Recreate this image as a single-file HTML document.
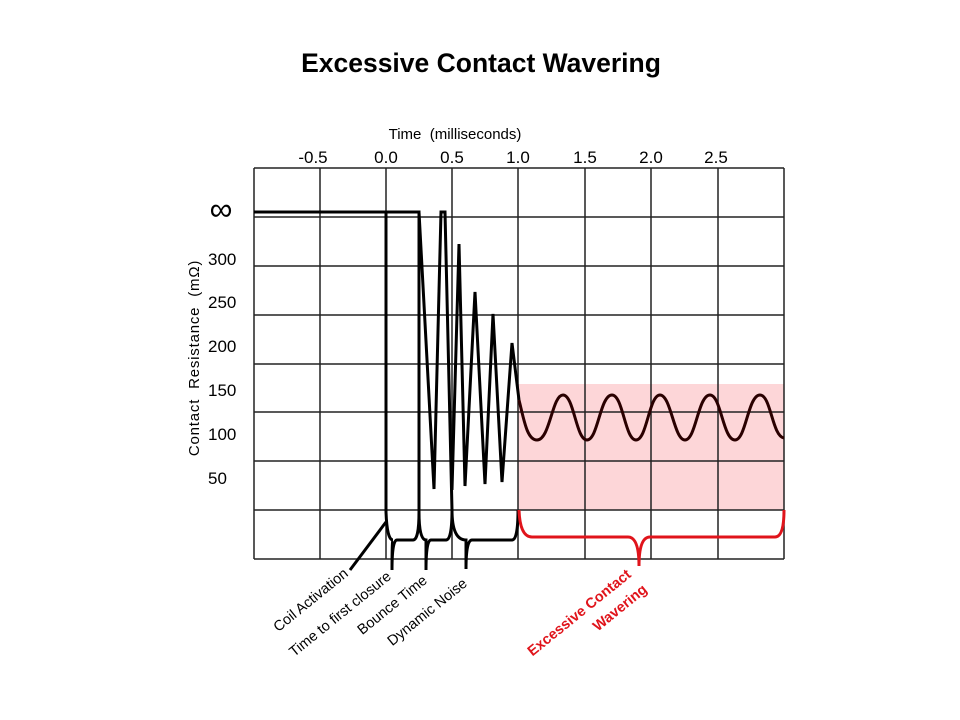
<!DOCTYPE html>
<html><head><meta charset="utf-8"><style>
html,body{margin:0;padding:0;background:#fff;width:960px;height:720px;overflow:hidden}
svg{display:block;font-family:"Liberation Sans",Arial,sans-serif}
</style></head><body>
<svg width="960" height="720" viewBox="0 0 960 720">
<text x="481" y="72" text-anchor="middle" font-size="26.5" font-weight="bold">Excessive Contact Wavering</text>
<text x="455" y="139" text-anchor="middle" font-size="15" xml:space="preserve">Time  (milliseconds)</text>
<g font-size="17" text-anchor="middle">
<text x="313" y="163">-0.5</text><text x="386" y="163">0.0</text><text x="452" y="163">0.5</text>
<text x="518" y="163">1.0</text><text x="585" y="163">1.5</text><text x="651" y="163">2.0</text><text x="716" y="163">2.5</text>
</g>
<g font-size="17">
<text x="208" y="265">300</text><text x="208" y="308">250</text><text x="208" y="352">200</text>
<text x="208" y="396">150</text><text x="208" y="440">100</text><text x="208" y="484">50</text>
</g>
<text x="221" y="220" text-anchor="middle" font-size="32">∞</text>
<text transform="translate(199,358) rotate(-90)" text-anchor="middle" font-size="15" letter-spacing="0.8" xml:space="preserve">Contact  Resistance  (mΩ)</text>
<rect x="518" y="384" width="266" height="126" fill="#fdd6d8"/>
<g stroke="#222" stroke-width="1.5" fill="none">
<path d="M254 168H784M254 217H784M254 266H784M254 315H784M254 364H784M254 412H784M254 461H784M254 510H784M254 559H784"/>
<path d="M254 168V559M320 168V559M386 168V559M452 168V559M518 168V559M585 168V559M651 168V559M718 168V559M784 168V559"/>
</g>
<g stroke="#000" stroke-width="3" fill="none" stroke-linejoin="miter">
<path d="M254 212H386V512M386 212H419V512"/>
<path d="M419 212L434 489L441 212H445L452 510M452 490L459 244L465 486L475 292L485 484L493 314L502 482L512 343L519 400"/>
<path d="M386 522L350 570"/>
<path d="M386 512Q387 540 393 540Q392 540 392 570Q392 540 397 540H413Q419 540 419 512Q419 540 426 540V570Q426 540 431 540H446Q452 540 452 510Q452 540 466 540V569Q466 540 472 540H512Q518 540 518 510"/>
</g>
<path d="M519 400C524 420 527 440 537 440C550 440 552 395 563 395C574 395 576 440 587 440C598 440 600 395 612 395C623 395 625 440 636 440C647 440 649 395 660 395C671 395 674 440 685 440C696 440 698 395 710 395C721 395 723 440 735 440C746 440 748 395 760 395C771 395 772 436 784 438" stroke="#2a0000" stroke-width="3" fill="none"/>
<path d="M519 510Q520 537 532 537H628Q639 537 639 566Q639 537 650 537H775Q784 537 784 510" stroke="#e0141b" stroke-width="3" fill="none"/>
<g font-size="14.5" text-anchor="end">
<text transform="translate(349,575) rotate(-39)">Coil Activation</text>
<text transform="translate(392,578) rotate(-39)">Time to first closure</text>
<text transform="translate(428,582) rotate(-39)">Bounce Time</text>
<text transform="translate(468,585) rotate(-39)">Dynamic Noise</text>
</g>
<g font-size="14.5" font-weight="bold" fill="#e0141b" text-anchor="end">
<text transform="translate(632,576) rotate(-39)">Excessive Contact</text>
<text transform="translate(648,591) rotate(-39)">Wavering</text>
</g>
</svg>
</body></html>
